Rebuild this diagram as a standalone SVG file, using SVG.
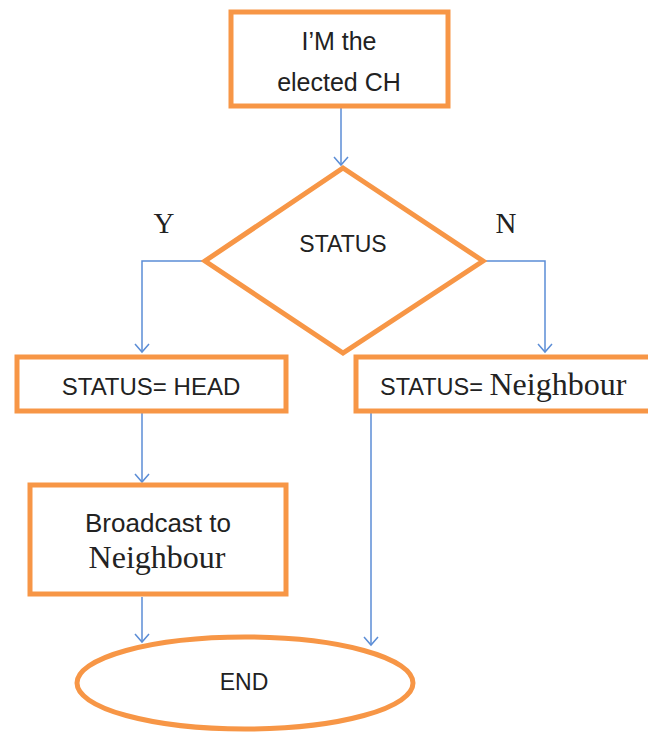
<svg xmlns="http://www.w3.org/2000/svg" width="648" height="738" viewBox="0 0 648 738">
<defs>
<marker id="arr" markerWidth="18" markerHeight="18" refX="9" refY="9" orient="auto" markerUnits="userSpaceOnUse">
<path d="M1,2 L9,9 L1,16" fill="none" stroke="#5B8DD6" stroke-width="1.5"/>
</marker>
<style>
.box{fill:#fff;stroke:#F79646;stroke-width:5}
.t{font-family:"Liberation Sans",Arial,sans-serif;fill:#222;text-anchor:middle}
.s{font-family:"Liberation Serif","Times New Roman",serif;fill:#222}
.c{fill:none;stroke:#5B8DD6;stroke-width:1.5;marker-end:url(#arr)}
</style>
</defs>
<rect width="648" height="738" fill="#fff"/>
<g id="connectors">
<path class="c" d="M341,108 L341,165"/>
<path class="c" d="M205,261 L142,261 L142,352"/>
<path class="c" d="M484,261 L545,261 L545,352"/>
<path class="c" d="M142,413 L142,482"/>
<path class="c" d="M142,597 L142,642"/>
<path class="c" d="M371,413 L371,645"/>
</g>
<g id="start">
<rect class="box" x="231" y="12" width="217" height="94"/>
<text class="t" x="339" y="50" font-size="25">I’M the</text>
<text class="t" x="339" y="91" font-size="25">elected CH</text>
</g>
<g id="decision">
<polygon class="box" points="343,168 483,261 343,353 205,261"/>
<text class="t" x="343" y="252" font-size="23">STATUS</text>
</g>
<g id="labels">
<text class="s" x="164" y="233" font-size="29" text-anchor="middle">Y</text>
<text class="s" x="506" y="233" font-size="29" text-anchor="middle">N</text>
</g>
<g id="head">
<rect class="box" x="17" y="357" width="269" height="54"/>
<text class="t" x="151" y="395" font-size="24">STATUS= HEAD</text>
</g>
<g id="neighbour">
<rect class="box" x="356" y="357" width="300" height="54"/>
<text x="380" y="395" font-size="23.5" font-family="Liberation Sans, Arial, sans-serif" fill="#222">STATUS= <tspan class="s" font-size="32">Neighbour</tspan></text>
</g>
<g id="broadcast">
<rect class="box" x="30" y="485" width="256" height="109"/>
<text class="t" x="158" y="532" font-size="26">Broadcast to</text>
<text class="s" x="157" y="568" font-size="32" text-anchor="middle">Neighbour</text>
</g>
<g id="end">
<ellipse class="box" cx="245" cy="683" rx="168" ry="46"/>
<text class="t" x="244" y="690" font-size="23">END</text>
</g>
</svg>
